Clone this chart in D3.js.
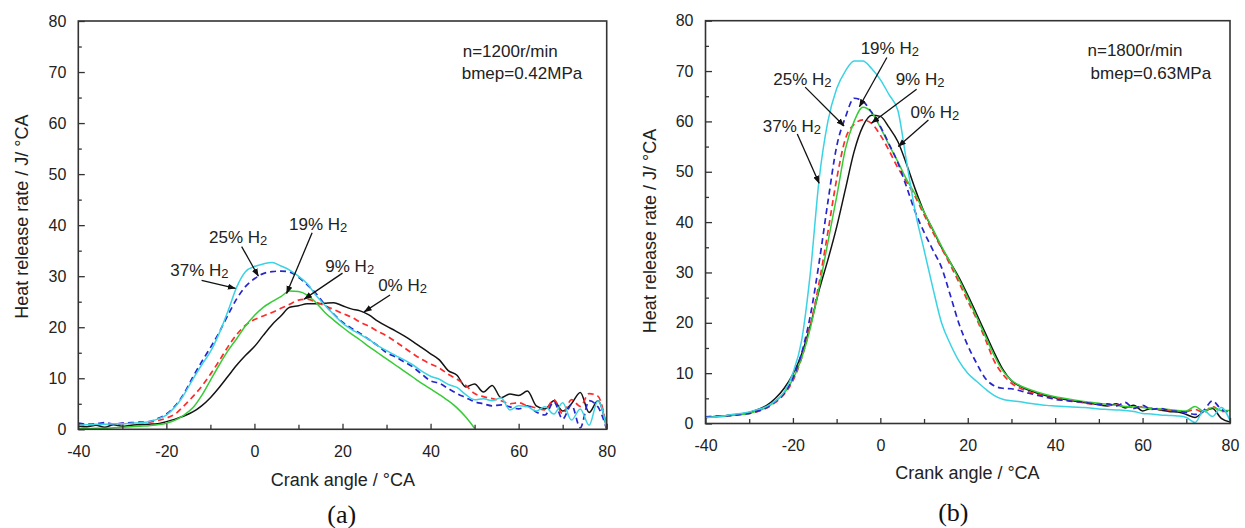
<!DOCTYPE html>
<html><head><meta charset="utf-8">
<script src="https://cdn.jsdelivr.net/npm/d3@7"></script>
<style>body{margin:0;background:#fff}svg{display:block}</style>
</head><body>
<svg id="chart" width="1245" height="528"></svg>
<script>
// ---------- data ----------
const angles = [-40,-38,-36,-34,-32,-30,-28,-26,-24,-22,-20,-18,-16,-14,-12,-10,-8,-6,-4,-2,0,2,4,6,8,10,12,14,16,18,20,22,24,26,28,30,32,34,36,38,40,42,44,46,48,50,52,54,56,58,60,62,64,66,68,70,72,74,76,78,80];

// panel (a) n=1200r/min
const a0  = [0.6,0.5,0.8,0.4,0.9,0.6,0.8,0.9,1.0,1.1,1.5,2.0,2.6,3.4,4.6,6.2,8.2,10.4,12.6,14.5,16.2,18.4,20.5,22.2,23.9,24.2,24.6,24.6,24.7,24.8,24.2,23.6,23.2,22.4,21.2,20.2,19.3,18.3,17.2,16.0,14.8,13.6,11.5,10.6,8.3,8.9,7.3,8.6,6.2,6.9,6.6,7.5,4.6,4.0,5.6,3.6,5.0,7.2,3.3,5.6,0.2];
const a9  = [0.8,0.8,0.9,1.0,1.0,1.1,1.2,1.3,1.4,1.7,2.2,3.0,4.6,6.4,8.4,10.8,13.4,16.2,18.6,20.4,21.5,22.2,22.9,23.7,24.5,25.3,25.5,24.9,24.2,23.5,22.7,22.0,21.0,20.2,19.2,18.3,17.2,16.0,14.8,13.7,12.8,12.0,10.8,9.8,8.6,7.0,6.4,6.0,5.6,5.0,5.2,4.6,4.2,3.8,5.8,3.0,5.8,4.5,7.0,6.5,0.3];
const a19 = [0.1,0.1,0.2,0.2,0.3,0.4,0.5,0.6,0.7,0.9,1.2,1.8,2.8,4.2,6.6,9.6,12.6,15.4,17.8,20.3,22.3,23.9,25.0,26.0,27.1,27.0,26.3,24.8,22.9,21.4,20.0,18.7,17.5,16.2,15.0,13.8,12.6,11.4,10.2,9.0,7.9,6.8,5.6,4.2,2.4,0.2,null,null,null,null,null,null,null,null,null,null,null,null,null,null,null];
const a25 = [1.2,1.0,1.1,1.3,1.0,1.2,1.3,1.4,1.5,2.1,3.0,4.6,7.0,10.2,13.2,16.0,19.0,22.4,25.6,28.0,29.5,30.5,30.9,31.0,30.8,29.8,28.3,26.6,24.4,22.6,21.0,19.8,18.8,17.6,16.4,15.0,14.2,13.2,12.2,10.8,9.5,9.0,8.0,7.0,6.2,5.4,5.0,4.6,4.8,4.4,4.0,4.6,3.4,2.8,5.4,2.0,4.8,0.3,5.6,4.4,0.0];
const a37 = [0.8,0.9,1.0,1.0,1.1,1.1,1.2,1.3,1.5,2.0,2.8,4.4,6.8,9.8,12.6,15.2,18.8,23.2,27.9,30.9,31.9,32.4,32.7,32.0,31.2,30.0,28.5,26.2,24.3,22.5,20.8,19.6,18.6,17.6,16.4,15.4,14.5,13.6,12.6,11.4,10.4,9.8,8.8,8.2,6.8,5.8,6.0,5.6,6.2,3.8,4.6,4.4,3.6,4.4,3.0,5.2,1.8,4.0,0.8,5.6,0.2];

// panel (b) n=1800r/min
const b0  = [1.2,1.4,1.5,1.7,1.9,2.2,2.8,3.6,5.0,7.0,9.8,13.8,19.5,26.5,32.5,39.0,46.5,54.0,59.0,61.2,61.0,58.8,56.0,51.5,46.5,42.0,38.5,35.0,32.0,29.0,25.5,21.8,18.0,14.2,10.8,8.5,7.4,6.6,6.0,5.5,5.1,4.8,4.5,4.2,4.0,3.7,3.5,3.9,3.1,3.6,2.5,3.0,2.7,2.4,2.3,1.8,1.2,2.4,3.0,1.0,0.3];
const b9  = [1.3,1.4,1.5,1.6,1.8,2.0,2.4,3.1,4.2,5.8,8.5,13.0,19.5,28.0,38.0,48.5,56.5,59.4,60.3,59.6,57.3,54.2,50.8,48.0,45.0,41.5,38.0,34.8,31.5,28.0,24.3,20.8,16.8,12.5,9.8,8.0,7.0,6.3,5.8,5.3,5.0,4.7,4.5,4.2,3.9,3.8,3.6,3.7,3.4,3.2,3.3,3.0,2.8,2.6,2.5,2.4,2.8,2.2,3.4,2.4,2.6];
const b19 = [1.2,1.3,1.4,1.6,1.8,2.0,2.5,3.2,4.4,6.0,8.8,13.0,19.0,27.0,36.0,45.0,54.5,60.0,62.8,61.8,58.8,55.3,52.0,48.5,45.5,42.0,38.6,35.2,32.0,28.6,25.0,21.2,17.4,13.6,10.5,8.6,7.5,6.8,6.2,5.7,5.3,5.0,4.7,4.4,4.2,4.0,3.8,3.6,3.4,3.3,3.2,3.0,2.9,2.8,2.6,2.5,3.4,2.4,3.2,2.6,2.6];
const b25 = [1.3,1.4,1.5,1.6,1.8,2.0,2.5,3.2,4.4,6.0,9.0,14.0,21.5,32.0,44.0,55.0,60.8,64.6,64.0,61.8,59.0,55.5,51.8,47.0,42.0,38.0,34.5,31.0,25.5,19.8,15.5,12.0,9.0,7.5,7.0,6.9,6.5,6.0,5.6,5.2,4.8,4.6,4.4,4.3,4.0,3.8,3.9,3.5,4.2,3.0,3.6,2.8,3.0,2.6,2.4,2.2,1.8,2.6,4.5,2.8,2.2];
const b37 = [1.2,1.3,1.5,1.8,2.0,2.3,2.8,3.4,4.5,6.3,10.0,16.5,30.0,48.5,60.0,66.5,70.0,72.0,72.0,70.5,68.3,65.3,62.2,52.0,42.0,34.5,27.0,20.0,15.8,12.4,10.0,8.4,6.9,5.6,4.8,4.5,4.3,4.0,3.8,3.6,3.5,3.4,3.3,3.2,3.1,2.9,2.8,2.7,2.6,2.4,2.0,1.9,1.7,1.6,1.5,1.2,0.2,2.6,1.4,3.2,0.6];

const seriesPct = ["0%","9%","19%","25%","37%"];
const xTickValues = [-40,-20,0,20,40,60,80];
const xMinorValues = [-30,-10,10,30,50,70];
const yTickValues = [0,10,20,30,40,50,60,70,80];
const yMinorValues = [5,15,25,35,45,55,65,75];
const xTitle = "Crank angle / °CA";
const yTitle = "Heat release rate / J/ °CA";
const condA = ["n=1200r/min","bmep=0.42MPa"];
const condB = ["n=1800r/min","bmep=0.63MPa"];

// ---------- styles ----------
const seriesStyle = [
  {color:"#141414", dash:null},
  {color:"#ff2b2b", dash:"6,4"},
  {color:"#35cc35", dash:null},
  {color:"#2626cc", dash:"6,4"},
  {color:"#3ad3e4", dash:null}
];
const drawOrder = [0,1,2,3,4];

// ---------- layout (label anchors in data units) ----------
const panels = [
  { values:[a0,a9,a19,a25,a37], cond:condA, tag:"(a)",
    box:{x0:78.3,x1:606.7,y0:21,y1:429.3},
    yTitlePos:[21.7,216.7], xTitlePos:[342.8,479.3], tagPos:[341.7,514.3],
    condPos:[[462.7,56.5],[461.7,79.3]],
    labels:[
      {t:[28.1,27.1], a:[30.8,26.3,24.9,23.0]},
      {t:[16.1,30.8], a:[20.0,30.6,11.3,25.5]},
      {t:[7.85,39.1], a:[13.1,38.5,7.3,26.6]},
      {t:[-10.3,36.5], a:[-2.9,35.8,0.9,30.0]},
      {t:[-19.1,30.1], a:[-12.0,29.2,-4.3,27.6]}
    ]},
  { values:[b0,b9,b19,b25,b37], cond:condB, tag:"(b)",
    box:{x0:705.5,x1:1230,y0:20.7,y1:423.5},
    yTitlePos:[650,231], xTitlePos:[967.5,472.7], tagPos:[953.3,512.7],
    condPos:[[1087.5,56],[1090.6,78.6]],
    labels:[
      {t:[6.9,60.7], a:[11.0,60.3,4.1,55.0]},
      {t:[3.5,67.2], a:[8.3,66.4,-2.0,59.7]},
      {t:[-4.5,73.3], a:[1.5,72.7,-4.8,62.9]},
      {t:[-24.5,67.2], a:[-17.2,66.8,-8.3,59.1]},
      {t:[-26.9,57.9], a:[-19.0,57.5,-14.0,47.7]}
    ]}
];

const FONT = "'Liberation Sans', Arial, Helvetica, sans-serif";
const svg = d3.select("#chart");
const defs = svg.append("defs");
defs.append("marker").attr("id","arrow")
  .attr("viewBox","0 0 10 10").attr("refX",9.5).attr("refY",5)
  .attr("markerWidth",8).attr("markerHeight",8)
  .attr("markerUnits","userSpaceOnUse").attr("orient","auto")
  .append("path").attr("d","M0,1.2 L10,5 L0,8.8 z").attr("fill","#111");

const plainNum = d => String(d);

panels.forEach((p, pi) => {
  const b = p.box;
  const x = d3.scaleLinear().domain([-40,80]).range([b.x0,b.x1]);
  const y = d3.scaleLinear().domain([0,80]).range([b.y1,b.y0]);
  const g = svg.append("g");

  defs.append("clipPath").attr("id","clip"+pi).append("rect")
    .attr("x",b.x0).attr("y",b.y0).attr("width",b.x1-b.x0).attr("height",b.y1-b.y0);

  // series lines
  const line = d3.line()
    .defined(d => d[1] !== null)
    .x(d => x(d[0])).y(d => y(d[1]))
    .curve(d3.curveMonotoneX);
  const lg = g.append("g").attr("clip-path",`url(#clip${pi})`);
  drawOrder.forEach(si => {
    const vals = p.values[si];
    const pts = angles.map((a,i) => [a, vals[i]]);
    const st = seriesStyle[si];
    lg.append("path").datum(pts)
      .attr("d", line).attr("fill","none")
      .attr("stroke", st.color).attr("stroke-width", st.dash ? 1.7 : 1.5)
      .attr("stroke-dasharray", st.dash)
      .attr("stroke-linejoin","round");
  });

  // axes (inward ticks)
  const axStyle = sel => {
    sel.select(".domain").remove();
    sel.selectAll(".tick line").attr("stroke","#333").attr("stroke-width",1.3);
    sel.selectAll(".tick text").attr("font-family",FONT).attr("font-size",16).attr("fill","#222");
  };
  g.append("g").attr("transform",`translate(0,${b.y1})`)
    .call(d3.axisBottom(x).tickValues(xTickValues).tickSizeInner(-5.5).tickSizeOuter(0).tickPadding(16).tickFormat(plainNum))
    .call(axStyle);
  g.append("g").attr("transform",`translate(0,${b.y1})`)
    .call(d3.axisBottom(x).tickValues(xMinorValues).tickSizeInner(-4.5).tickSizeOuter(0).tickFormat(""))
    .call(axStyle);
  g.append("g").attr("transform",`translate(${b.x0},0)`)
    .call(d3.axisLeft(y).tickValues(yTickValues).tickSizeInner(-6.5).tickSizeOuter(0).tickPadding(12).tickFormat(plainNum))
    .call(axStyle);
  g.append("g").attr("transform",`translate(${b.x0},0)`)
    .call(d3.axisLeft(y).tickValues(yMinorValues).tickSizeInner(-3.5).tickSizeOuter(0).tickFormat(""))
    .call(axStyle);

  // frame
  g.append("rect").attr("x",b.x0).attr("y",b.y0)
    .attr("width",b.x1-b.x0).attr("height",b.y1-b.y0)
    .attr("fill","none").attr("stroke","#333").attr("stroke-width",1.6);

  // titles
  g.append("text").attr("x",p.xTitlePos[0]).attr("y",p.xTitlePos[1]).attr("dy","0.35em")
    .attr("text-anchor","middle").attr("font-family",FONT).attr("font-size",18).attr("fill","#222")
    .text(xTitle);
  g.append("text").attr("transform",`translate(${p.yTitlePos[0]},${p.yTitlePos[1]}) rotate(-90)`)
    .attr("dy","0.35em").attr("text-anchor","middle").attr("font-family",FONT).attr("font-size",18).attr("fill","#222")
    .text(yTitle);
  g.append("text").attr("x",p.tagPos[0]).attr("y",p.tagPos[1]).attr("dy","0.33em")
    .attr("text-anchor","middle").attr("font-family","'Liberation Serif','Times New Roman',serif")
    .attr("font-size",26).attr("fill","#111").text(p.tag);

  // operating condition
  p.cond.forEach((s,i) => {
    g.append("text").attr("x",p.condPos[i][0]).attr("y",p.condPos[i][1])
      .attr("font-family",FONT).attr("font-size",17).attr("fill","#222").text(s);
  });

  // series labels with arrows
  p.labels.forEach((L, si) => {
    g.append("line")
      .attr("x1",x(L.a[0])).attr("y1",y(L.a[1]))
      .attr("x2",x(L.a[2])).attr("y2",y(L.a[3]))
      .attr("stroke","#111").attr("stroke-width",1.3)
      .attr("marker-end","url(#arrow)");
    const t = g.append("text").attr("x",x(L.t[0])).attr("y",y(L.t[1]))
      .attr("font-family",FONT).attr("font-size",17).attr("fill","#222");
    t.append("tspan").text(seriesPct[si] + " H");
    t.append("tspan").attr("font-size",13).attr("dy",2).text("2");
  });
});
</script>
</body></html>
